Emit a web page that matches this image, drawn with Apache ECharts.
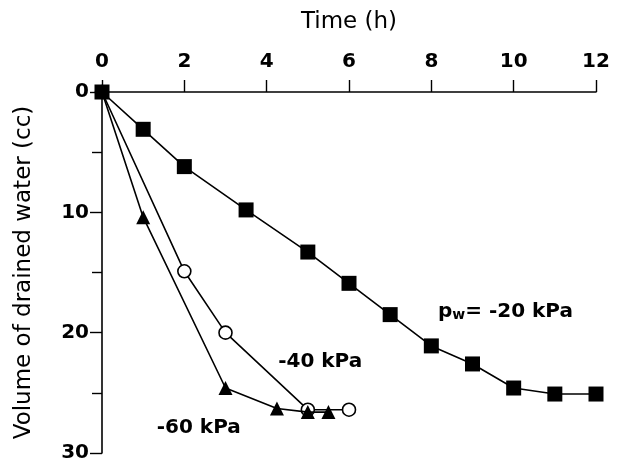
<!DOCTYPE html>
<html>
<head>
<meta charset="utf-8">
<script src="https://cdn.jsdelivr.net/npm/echarts@6/dist/echarts.min.js"></script>
<style>
html,body{margin:0;padding:0;background:#fff;}
#c{width:619px;height:464px;}
</style>
</head>
<body>
<div id="c"></div>
<script>
// Data
const timeTicksMax = 12;
const volMax = 30;

const time20 = [0, 1, 2, 3.5, 5, 6, 7, 8, 9, 10, 11, 12];
const vol20  = [0, 3.1, 6.2, 9.8, 13.3, 15.9, 18.5, 21.1, 22.6, 24.6, 25.1, 25.1];

const time40 = [0, 2, 3, 5, 6];
const vol40  = [0, 14.9, 20.0, 26.4, 26.4];

const time60 = [0, 1, 3, 4.25, 5, 5.5];
const vol60  = [0, 10.4, 24.6, 26.3, 26.6, 26.6];

// Annotation texts and their anchor positions (text centre) in data units
const labelTexts = ['pw= -20 kPa', '-40 kPa', '-60 kPa'];
const labelTime  = [9.8, 5.3, 2.35];
const labelVol   = [18.3, 22.4, 27.9];

const zip = (xs, ys) => xs.map((x, i) => [x, ys[i]]);
const FONT = '"DejaVu Sans", Verdana, sans-serif';

const chart = echarts.init(document.getElementById('c'), null, {renderer: 'canvas'});

function lineSeries(name, data, symbol, size, filled) {
  return {
    name: name,
    type: 'line',
    data: data,
    symbol: symbol,
    symbolSize: size,
    showAllSymbol: true,
    lineStyle: {color: '#000', width: 1.6},
    itemStyle: {color: filled ? '#000' : '#fff', borderColor: '#000', borderWidth: filled ? 0 : 1.6},
    emphasis: {disabled: true},
    animation: false,
    z: filled ? 3 : 2
  };
}

const option = {
  backgroundColor: '#fff',
  animation: false,
  grid: {left: 102, top: 92, width: 494, height: 361, containLabel: false},
  xAxis: {
    type: 'value',
    position: 'top',
    min: 0, max: timeTicksMax, interval: 2,
    name: 'Time (h)',
    nameLocation: 'middle',
    nameGap: 58,
    nameTextStyle: {fontFamily: FONT, fontSize: 23, color: '#000'},
    axisLine: {show: true, onZero: false, lineStyle: {color: '#000', width: 1.6}},
    axisTick: {show: true, inside: false, length: 12, lineStyle: {color: '#000', width: 1.4}},
    axisLabel: {margin: 20, fontFamily: FONT, fontSize: 20, fontWeight: 'bold', color: '#000'},
    splitLine: {show: false}
  },
  yAxis: {
    type: 'value',
    inverse: true,
    min: 0, max: volMax, interval: 10,
    name: 'Volume of drained water (cc)',
    nameLocation: 'middle',
    nameGap: 66,
    nameRotate: 90,
    nameTextStyle: {fontFamily: FONT, fontSize: 23, color: '#000'},
    axisLine: {show: true, onZero: false, lineStyle: {color: '#000', width: 1.6}},
    axisTick: {show: true, inside: false, length: 12, lineStyle: {color: '#000', width: 1.4}},
    minorTick: {show: true, splitNumber: 2, length: 10, lineStyle: {color: '#000', width: 1.4}},
    axisLabel: {margin: 13, fontFamily: FONT, fontSize: 20, fontWeight: 'bold', color: '#000'},
    splitLine: {show: false},
    minorSplitLine: {show: false}
  },
  series: [
    lineSeries('-40 kPa', zip(time40, vol40), 'circle', 13, false),
    lineSeries('-60 kPa', zip(time60, vol60), 'triangle', 14, true),
    lineSeries('pw= -20 kPa', zip(time20, vol20), 'rect', 15, true)
  ]
};

chart.setOption(option);

// Annotations placed through the chart's own coordinate conversion
const graphics = labelTexts.map((t, i) => {
  const p = chart.convertToPixel({gridIndex: 0}, [labelTime[i], labelVol[i]]);
  const rich = {
    p: {fontFamily: FONT, fontSize: 20, fontWeight: 'bold', fill: '#000'},
    w: {fontFamily: FONT, fontSize: 14, fontWeight: 'bold', fill: '#000', verticalAlign: 'bottom'},
    n: {fontFamily: FONT, fontSize: 20, fontWeight: 'bold', fill: '#000'}
  };
  return {
    type: 'text',
    x: p[0],
    y: p[1],
    silent: true,
    z: 10,
    style: {
      text: i === 0 ? '{p|p}{w|w}{n|= -20 kPa}' : '{n|' + t + '}',
      rich: rich,
      fill: '#000',
      align: 'center',
      verticalAlign: 'middle',
      font: 'bold 20px ' + FONT
    }
  };
});
chart.setOption({graphic: graphics});
</script>
</body>
</html>
